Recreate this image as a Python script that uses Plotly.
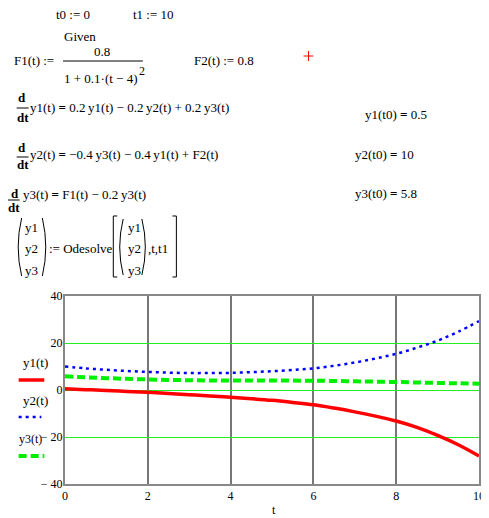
import plotly.graph_objects as go

# values
t = [0, 0.5, 1, 1.5, 2, 2.5, 3, 3.5, 4, 4.5, 5, 5.5, 6, 6.5, 7, 7.5, 8, 8.5, 9, 9.5, 10]
y1 = [0.5, 0.15, -0.2, -0.6, -1.0, -1.5, -2.0, -2.5, -3.1, -3.7, -4.4, -5.3, -6.3, -7.7,
      -9.3, -11.1, -13.2, -15.9, -19.3, -23.3, -28.1]
y2 = [10.0, 9.2, 8.6, 8.1, 7.7, 7.4, 7.2, 7.2, 7.3, 7.6, 8.0, 8.5, 9.2, 10.3, 11.7, 13.4,
      15.4, 18.0, 21.0, 24.8, 29.3]
y3 = [5.8, 5.4, 5.05, 4.75, 4.5, 4.3, 4.15, 4.05, 4.0, 4.0, 4.0, 4.0, 3.95, 3.85, 3.7,
      3.55, 3.4, 3.2, 3.0, 2.85, 2.7]

ytick_vals = [-40, -20, 0, 20, 40]
ytick_text = ["\u2212 40", "\u2212 20", "0", "20", "40"]
xtick_vals = [0, 2, 4, 6, 8, 10]

# plot box in page pixels; the html body adds an 8px margin round the figure
OFF = 8
L, R, T, B = 65, 485, 296, 484
W, H = R - L, B - T
FONT = "Times New Roman, Liberation Serif, serif"


def px(x):
    return (x - L) / W


def py(y):
    return (B - y) / H


fig = go.Figure()
fig.add_trace(go.Scatter(x=t, y=y1, mode="lines", line=dict(color="#ff0000", width=3.5),
                         line_shape="spline"))
fig.add_trace(go.Scatter(x=t, y=y2, mode="lines",
                         line=dict(color="#0000ff", width=2.5, dash="3px,4px"),
                         line_shape="spline"))
fig.add_trace(go.Scatter(x=t, y=y3, mode="lines",
                         line=dict(color="#00ee00", width=4, dash="8px,4px"),
                         line_shape="spline"))

ann = []


def text(x, y, s, size=13, anchor="left", color="black"):
    ann.append(dict(x=px(x), y=py(y), xref="paper", yref="paper", text=s, showarrow=False,
                    xanchor=anchor, yanchor="middle", borderpad=0,
                    font=dict(family=FONT, size=size, color=color)))


EQ = "<b>=</b>"
text(55, 14, "t0 := 0")
text(133, 14, "t1 := 10")
text(63, 36, "Given")
text(12, 60, "F1(t) :=")
text(103, 52, "0.8", anchor="center")
text(63, 78, "1 + 0.1\u00b7(t \u2212 4)")
text(139, 71, "2", size=12)
text(195, 60, "F2(t) := 0.8")

text(16, 98, "<b>d</b>")
text(15, 118, "<b>dt</b>")
text(28, 107, "y1(t) " + EQ + " 0.2\u2009y1(t) \u2212 0.2\u2009y2(t) + 0.2\u2009y3(t)")
text(368, 115, "y1(t0) " + EQ + " 0.5")

text(16, 147, "<b>d</b>")
text(15, 165, "<b>dt</b>")
text(28, 154, "y2(t) " + EQ + " \u22120.4\u2009y3(t) \u2212 0.4\u2009y1(t) + F2(t)")
text(358, 154, "y2(t0) " + EQ + " 10")

text(9, 193, "<b>d</b>")
text(6, 207, "<b>dt</b>")
text(21, 194, "y3(t) " + EQ + " F1(t) \u2212 0.2\u2009y3(t)")
text(358, 193, "y3(t0) " + EQ + " 5.8")

for i, yy in enumerate([227, 248, 270]):
    text(31, yy, "y%d" % (i + 1), anchor="center")
    text(136, yy, "y%d" % (i + 1), anchor="center")
text(48, 248, ":= Odesolve")
text(148, 248, ",t,t1")

# legend labels drawn the Mathcad way, text above the line sample
text(21, 362, "y1(t)")
text(21, 400, "y2(t)")
text(17, 439, "y3(t)", size=12)
text(277, 510, "t", size=12, anchor="center")

shapes = []


def seg(x0, y0, x1, y1_, color="black", width=1, dash="solid"):
    shapes.append(dict(type="line", xref="paper", yref="paper", x0=px(x0), y0=py(y0),
                       x1=px(x1), y1=py(y1_), line=dict(color=color, width=width, dash=dash)))


def paren(x_end, x_mid, y0, y1_):
    ym = (y0 + y1_) / 2
    path = "M %f,%f Q %f,%f %f,%f" % (px(x_end), py(y0), px(x_mid), py(ym), px(x_end), py(y1_))
    shapes.append(dict(type="path", xref="paper", yref="paper", path=path,
                       line=dict(color="black", width=1)))


def bracket(x_end, x_edge, y0, y1_):
    path = "M %f,%f L %f,%f L %f,%f L %f,%f" % (px(x_end), py(y0), px(x_edge), py(y0),
                                                px(x_edge), py(y1_), px(x_end), py(y1_))
    shapes.append(dict(type="path", xref="paper", yref="paper", path=path,
                       line=dict(color="black", width=1)))


seg(63, 61, 144, 61)
seg(16, 108, 28, 108)
seg(16, 157, 28, 157)
seg(7, 200, 19, 200)
paren(21, 14, 218, 276)
paren(42, 49, 218, 276)
paren(124, 117, 219, 275)
paren(143, 150, 219, 275)
bracket(118, 114, 216, 277)
bracket(174, 178, 216, 277)
# red cursor cross
seg(307, 56, 317, 56, color="#ff0000")
seg(312, 51, 312, 61, color="#ff0000")
# legend line samples
seg(18, 380, 44, 380, color="#ff0000", width=3.5)
seg(18, 417, 41, 417, color="#0000ff", width=2.5, dash="3px,4px")
seg(18, 456, 44, 456, color="#00ee00", width=4, dash="8px,4px")

fig.update_layout(
    width=489 - OFF, height=518 - OFF,
    margin=dict(l=L - OFF, r=489 - R, t=T - OFF, b=518 - B),
    paper_bgcolor="white", plot_bgcolor="white",
    showlegend=False,
    font=dict(family=FONT, size=12, color="black"),
    annotations=ann, shapes=shapes,
)
fig.update_xaxes(range=[0, 10], tickvals=xtick_vals, showgrid=True, gridcolor="#777777",
                 gridwidth=2, showline=True, linecolor="#888888", linewidth=2, mirror=True,
                 zeroline=False, ticks="", tickfont=dict(family=FONT, size=12, color="black"))
fig.update_yaxes(range=[-40, 40], tickvals=ytick_vals, ticktext=ytick_text, showgrid=True,
                 gridcolor="#22ee22", gridwidth=1, showline=True, linecolor="#888888",
                 linewidth=2, mirror=True, zeroline=False, ticks="", ticklabelstandoff=-2,
                 tickfont=dict(family=FONT, size=12, color="black"))

fig.write_html("out.html", config={"displayModeBar": False})
